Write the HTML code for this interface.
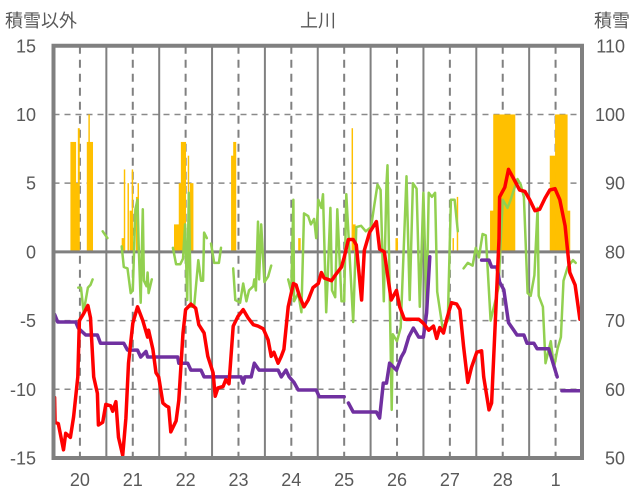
<!DOCTYPE html>
<html><head><meta charset="utf-8"><style>
html,body{margin:0;padding:0;background:#fff;}
svg{display:block;font-family:"Liberation Sans","Noto Sans CJK JP",sans-serif;}
</style></head><body>
<svg id="chart" width="636" height="501">
<text x="5" y="27" font-size="18" fill="#595959">積雪以外</text>
<text x="318" y="27" font-size="18" fill="#595959" text-anchor="middle">上川</text>
<text x="630" y="27" font-size="18" fill="#595959" text-anchor="end">積雪</text>
<g id="grid"></g>
<g id="bars"></g>
<g id="zero"></g>
<g id="series"></g>
<g id="axes"></g>
</svg>
<script>
const dayLabels = ["20","21","22","23","24","25","26","27","28","1"];
const leftTicks = [15,10,5,0,-5,-10,-15];
const rightTicks = [110,100,90,80,70,60,50];

const barStart = [0.32,0.42,0.46,0.63,0.66,0.68,1.29,1.33,1.40,1.44,1.48,1.56,1.59,2.28,2.37,2.41,2.54,2.58,3.36,3.40,4.63,5.64,5.66,6.47,7.55,7.63,8.26,8.32,9.39,9.49,9.72];
const barEnd   = [0.42,0.46,0.49,0.66,0.68,0.74,1.33,1.35,1.42,1.48,1.50,1.59,1.61,2.37,2.41,2.50,2.56,2.64,3.40,3.45,4.67,5.66,5.71,6.51,7.57,7.65,8.32,8.73,9.49,9.72,9.77];
const barValue = [8,5,9,8,10,8,1,6,5,3,6,4,5,2,5,8,7,5,7,8,1,9,2,1,1,4,3,10,7,10,3];

const redT = [0.02,0.03,0.09,0.19,0.23,0.32,0.38,0.46,0.49,0.57,0.65,0.70,0.76,0.83,0.85,0.93,0.99,1.08,1.12,1.18,1.23,1.31,1.37,1.42,1.50,1.59,1.69,1.78,1.80,1.88,1.94,1.99,2.07,2.13,2.18,2.22,2.32,2.37,2.45,2.50,2.60,2.69,2.75,2.85,2.92,3.02,3.06,3.11,3.21,3.26,3.32,3.40,3.49,3.59,3.68,3.78,3.87,3.97,4.06,4.12,4.17,4.25,4.31,4.36,4.44,4.54,4.59,4.65,4.74,4.82,4.91,5.01,5.07,5.12,5.26,5.35,5.45,5.50,5.58,5.67,5.73,5.83,5.88,5.98,6.11,6.17,6.26,6.39,6.49,6.55,6.64,6.77,6.91,7.00,7.10,7.19,7.25,7.31,7.38,7.44,7.53,7.63,7.69,7.76,7.84,7.91,8.01,8.10,8.14,8.24,8.29,8.35,8.43,8.44,8.54,8.61,8.71,8.82,8.92,9.01,9.11,9.20,9.30,9.39,9.49,9.58,9.68,9.77,9.87,9.96];
const redV = [-10.6,-12.4,-12.5,-14.4,-13.2,-13.5,-12,-9.1,-5,-4.5,-3.9,-4.8,-9.1,-10.3,-12.6,-12.4,-11.1,-11.2,-11.6,-10.9,-13.5,-14.8,-12.1,-8.1,-5.2,-4.0,-5.0,-6.2,-5.7,-7.1,-8.8,-9.1,-11.0,-11.2,-11.3,-13.1,-12.3,-10.8,-5.9,-4.2,-3.8,-4.1,-5.3,-5.9,-7.6,-8.8,-10.5,-9.9,-9.8,-9.3,-9.6,-5.4,-4.7,-4.2,-4.8,-5.3,-5.4,-5.6,-6.4,-7.6,-7.3,-8.1,-7.6,-7.1,-4.0,-2.3,-2.4,-3.2,-4.0,-3.5,-2.6,-2.3,-1.5,-1.9,-2.1,-1.6,-1.1,-0.4,0.9,0.9,0.5,-3.5,0.1,1.4,2.2,0.2,0,-3.5,-2.8,-4.0,-4.9,-4.9,-4.9,-5.2,-5.7,-5.4,-6.3,-5.5,-5.9,-4.9,-3.7,-3.8,-4.2,-6.9,-9.5,-8.4,-7.3,-7.2,-9.1,-11.5,-11.0,-5.9,0.9,4.0,4.7,6.0,5.3,4.5,4.4,3.8,3.0,3.1,3.9,4.5,4.6,3.8,1.9,-1.5,-2.4,-4.9];

const purpleT = [0.02,0.08,0.42,0.47,0.61,0.83,0.89,1.33,1.40,1.59,1.65,1.75,1.78,2.35,2.37,2.54,2.60,2.79,2.85,3.55,3.59,3.62,3.74,3.80,3.89,4.25,4.31,4.40,4.46,4.55,4.63,4.97,5.03,5.50,null,5.58,5.67,6.11,6.17,6.24,6.30,6.36,6.49,6.58,6.64,6.72,6.81,6.91,7.00,7.06,7.12,null,8.10,8.24,8.29,8.39,8.44,8.52,8.61,8.71,8.77,8.90,8.96,9.09,9.15,9.37,9.53,null,9.62,9.96];
const purpleV = [70.9,69.8,69.8,68.9,67.9,67.9,66.7,66.7,65.7,65.7,64.7,65.5,64.7,64.7,63.8,63.8,62.8,62.8,61.8,61.8,60.9,61.8,61.8,63.8,62.8,62.8,61.8,62.8,61.8,61.0,59.9,59.9,58.9,58.9,null,58.0,56.7,56.7,55.8,60.9,60.9,63.8,62.8,64.7,65.5,67.6,68.9,67.6,67.6,71.1,79.3,null,78.8,78.8,77.8,77.8,75.6,74.5,69.7,68.6,67.9,67.9,66.7,66.7,65.9,65.9,61.8,null,59.8,59.8];

const greenT = [0.47,0.52,0.57,0.65,0.70,0.74,null,0.93,1.02,null,1.29,1.33,1.40,1.46,1.50,1.55,1.59,1.61,1.65,1.69,1.71,1.76,1.78,1.80,1.86,null,2.26,2.32,2.40,2.45,2.49,2.53,2.56,2.60,2.66,2.74,2.79,2.83,2.85,2.90,null,2.98,3.04,3.13,3.17,null,3.26,null,3.40,3.44,3.53,3.59,3.65,3.70,3.78,3.80,3.83,3.87,3.89,3.93,3.99,4.06,4.12,null,4.44,4.50,4.54,4.55,4.63,4.69,4.74,4.82,4.87,4.93,4.97,5.01,5.07,5.10,5.16,5.18,5.24,5.27,5.33,5.37,5.45,5.50,5.54,5.67,5.73,5.82,5.91,6.01,6.07,6.13,6.19,6.25,6.30,6.32,6.40,6.42,6.50,6.57,6.68,6.74,6.80,6.87,6.93,7.00,7.06,7.10,7.16,7.22,7.26,7.36,7.46,7.52,7.59,7.65,7.67,null,7.76,7.84,7.93,7.99,8.05,8.12,8.18,8.27,8.42,8.50,8.59,8.65,8.71,8.78,8.84,8.90,8.97,9.03,9.10,9.16,9.18,9.26,9.31,9.41,9.47,9.54,9.60,9.65,9.73,9.83,9.88,9.96];
const greenV = [-2.6,-2.6,-4.4,-2.6,-2.4,-2.0,null,1.5,1.0,null,0.4,-1.1,-1.2,-3.0,-2.8,3.1,3.8,0.6,-3.7,3.1,-2.1,-2.5,-1.5,-3.0,-2.0,null,0.3,-0.9,-0.9,-0.5,2.0,-3.5,4.3,-4.0,-4.0,-0.6,-2.1,-2.1,1.4,1.0,null,0.6,-0.8,-0.8,0.3,null,-0.3,null,-1.2,-3.5,-3.7,-2.3,-3.6,-2.8,-2.5,-2.0,-2.8,2.2,-2.0,2.0,-2.2,-1.8,-1.0,null,-2.0,-2.9,3.8,-3.6,-3.0,-4.4,2.8,2.6,2.0,2.4,1.0,3.8,3.2,4.2,-4.4,-2.6,3.2,-2.8,-3.3,3.1,-3.6,-3.6,4.2,-5.1,1.8,1.9,1.5,1.8,3.4,4.9,4.5,-3.6,5.0,6.3,-11.5,-6.0,-6.5,-5.5,5.5,-3.5,5.0,4.6,-4.0,4.3,-4.2,4.3,4.0,4.3,-2.9,-5.5,-5.0,3.8,3.8,1.5,null,0.5,-1.2,-0.8,-1.0,0.3,-0.4,1.3,1.2,-5.0,-2.6,3.8,3.2,3.8,4.5,5.3,4.9,4.0,-3.0,-3.2,-1.7,3.2,-3.2,-4.0,-8.1,-6.5,-8.4,-7.0,-6.2,-2.1,-1.1,-0.6,-0.8];

const NS = "http://www.w3.org/2000/svg";
const X0 = 53.5, X1 = 582, YT = 45.75, YB = 458;
function xOf(d){ return X0 + d * (X1 - X0) / 10; }
function yL(v){ return YB - (v + 15) * (YB - YT) / 30; }
function yR(v){ return YB - (v - 50) * (YB - YT) / 60; }
function mk(tag, attrs, parent){
  const e = document.createElementNS(NS, tag);
  for (const k in attrs) e.setAttribute(k, attrs[k]);
  parent.appendChild(e); return e;
}
const gBars = document.getElementById('bars');
const gGrid = document.getElementById('grid');
const gZero = document.getElementById('zero');
const gSer = document.getElementById('series');
const gAx = document.getElementById('axes');

for (let i = 0; i < barValue.length; i++) {
  const x = xOf(barStart[i]), w = xOf(barEnd[i]) - x + 0.4;
  const r = mk('rect', {x: x, y: yL(barValue[i]), width: w, height: yL(0) - yL(barValue[i]), fill: '#FFC000'}, gBars);
  
  
}

leftTicks.forEach(v => {
  if (v === 15 || v === -15) return;
  const par = v === 0 ? gZero : gGrid;
  const l = mk('line', {x1: X0, x2: X1, y1: yL(v), y2: yL(v), stroke: '#808080', 'stroke-width': v === 0 ? 3 : 1.5}, par);
  if (v !== 0) { l.setAttribute('stroke-dasharray', '6,5'); l.setAttribute('stroke', '#8a8a8a'); }
  
  
});
for (let d = 0; d < 10; d++) {
  if (d > 0) {
    const l = mk('line', {x1: xOf(d), x2: xOf(d), y1: YT, y2: YB, stroke: '#808080', 'stroke-width': 2}, gGrid);
    
    
  }
  const n = mk('line', {x1: xOf(d + 0.5), x2: xOf(d + 0.5), y1: YT, y2: YB, stroke: '#808080', 'stroke-width': 2, 'stroke-dasharray': '8,6'}, gGrid);
  
  
}

function drawLine(ts, vs, yf, color, w, name){
  let d = '', pen = false;
  for (let i = 0; i < ts.length; i++) {
    if (ts[i] === null || vs[i] === null) { pen = false; continue; }
    d += (pen ? 'L' : 'M') + xOf(ts[i]).toFixed(1) + ',' + yf(vs[i]).toFixed(1);
    pen = true;
  }
  const p = mk('path', {d: d, fill: 'none', stroke: color, 'stroke-width': w, 'stroke-linejoin': 'round', 'stroke-linecap': 'round'}, gSer);
  
  
}
drawLine(greenT, greenV, yL, '#92D050', 2.5, 'green-series');
drawLine(purpleT, purpleV, yR, '#7030A0', 3.5, 'snow-depth-line');
drawLine(redT, redV, yL, '#FF0000', 3.5, 'temperature-line');

const fr = mk('rect', {x: X0, y: YT, width: X1 - X0, height: YB - YT, fill: 'none', stroke: '#808080', 'stroke-width': 4}, gAx);



leftTicks.forEach(v => {
  const t = mk('text', {x: 36, y: yL(v) + 6.5, 'font-size': 18, fill: '#595959', 'text-anchor': 'end'}, gAx);
  t.textContent = v;
  
  
});
rightTicks.forEach(v => {
  const t = mk('text', {x: 625, y: yR(v) + 6.5, 'font-size': 18, fill: '#595959', 'text-anchor': 'end'}, gAx);
  t.textContent = v;
  
  
});
dayLabels.forEach((s, i) => {
  const t = mk('text', {x: xOf(i + 0.5), y: 486, 'font-size': 18, fill: '#595959', 'text-anchor': 'middle'}, gAx);
  t.textContent = s;
  
  
});
</script>
</body></html>
